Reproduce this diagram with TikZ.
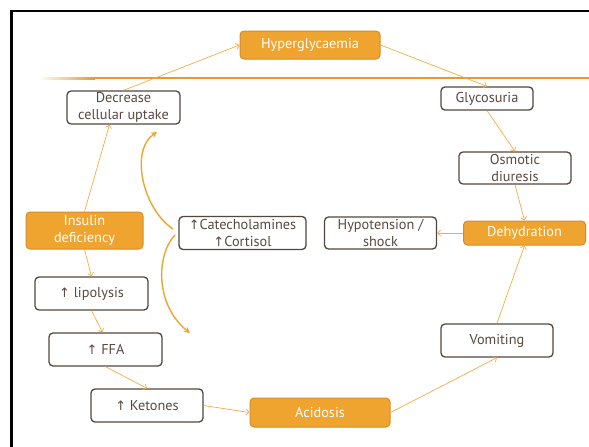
\documentclass[tikz,border=0pt]{standalone}
\usepackage{fontspec}
\setmainfont{PT Sans}
\newfontfamily\symf{DejaVu Sans}
\usetikzlibrary{arrows.meta,calc}
\definecolor{orfill}{RGB}{240,164,48}
\definecolor{orborder}{RGB}{212,140,42}
\definecolor{orline}{RGB}{234,152,40}
\definecolor{arcol}{RGB}{243,172,72}
\definecolor{bxborder}{RGB}{84,70,62}
\definecolor{txcol}{RGB}{88,74,66}
\newcommand\upa{{\symf\fontsize{13}{13}\selectfont ↑}}
\tikzset{
  basebox/.style={rounded corners=4pt, align=center, inner sep=0pt,
    font=\fontsize{14.3}{17}\selectfont},
  wbox/.style={basebox, draw=bxborder, line width=1.3pt, fill=white, text=txcol},
  obox/.style={basebox, draw=orborder, line width=1pt, fill=orfill, text=white},
  conn/.style={draw=arcol, line width=0.7pt, -{Straight Barb[length=3pt,width=6pt]}},
  curv/.style={draw=orfill, line width=1.4pt, -{Stealth[length=6pt,width=6pt]}},
}
\begin{document}
\begin{tikzpicture}[x=1pt,y=-1pt]
\useasboundingbox (0,0) rectangle (589,447);
% frame
\fill[black] (9.5,9.5) rectangle (589,12);
\fill[black] (9.5,9.5) rectangle (12.5,447);
% orange rule
\shade[left color=white, right color=orline] (38,77) rectangle (95,79);
\fill[orline] (95,77) rectangle (589,79);
% nodes
\node[obox, minimum width=140pt, minimum height=28pt] (hyper) at (310,45) {Hyperglycaemia};
\node[wbox, minimum width=113pt, minimum height=33pt] (decr) at (123.5,107.5) {Decrease\\cellular uptake};
\node[wbox, minimum width=92pt, minimum height=23pt] (glyc) at (487,98.5) {Glycosuria};
\node[wbox, minimum width=112pt, minimum height=32pt] (osm) at (515,168) {Osmotic\\diuresis};
\node[obox, minimum width=122pt, minimum height=24pt] (dehyd) at (524.5,233) {Dehydration};
\node[wbox, minimum width=112pt, minimum height=32pt] (hypo) at (380.5,233) {Hypotension /\\shock};
\node[wbox, minimum width=127pt, minimum height=33pt] (cate) at (242.5,233) {\upa Catecholamines\\\upa Cortisol};
\node[obox, minimum width=117pt, minimum height=37pt] (insul) at (84.5,230.5) {Insulin\\deficiency};
\node[wbox, minimum width=113pt, minimum height=33pt] (lipo) at (91.5,293.5) {\upa\ lipolysis};
\node[wbox, minimum width=113pt, minimum height=33pt] (ffa) at (105.5,349.5) {\upa\ FFA};
\node[wbox, minimum width=112pt, minimum height=33pt] (keto) at (147,405.5) {\upa\ Ketones};
\node[obox, minimum width=140pt, minimum height=29pt] (acid) at (320,412.5) {Acidosis};
\node[wbox, minimum width=112pt, minimum height=33pt] (vomit) at (497,340.5) {Vomiting};
% straight connectors
\draw[conn] (decr.north) -- (hyper.west);
\draw[conn] (hyper.east) -- (glyc.north);
\draw[conn] (glyc.south) -- (osm.north);
\draw[conn] (osm.south) -- (dehyd.north);
\draw[conn] (dehyd.west) -- (hypo.east);
\draw[conn] (vomit.north) -- (dehyd.south);
\draw[conn] (acid.east) -- (vomit.south);
\draw[conn] (keto.east) -- (acid.west);
\draw[conn] (ffa.south) -- (keto.north);
\draw[conn] (lipo.south) -- ([xshift=-3pt]ffa.north);
\draw[conn] (insul.south) -- (lipo.north);
\draw[conn] (insul.north) -- ([xshift=-14pt]decr.south);
% curved arrows from catecholamines
\coordinate (cu0) at (173,229);
\coordinate (cu1) at (157,132);
\coordinate (cd0) at (175,235);
\coordinate (cd1) at (190,333);
\draw[curv] (cu0) .. controls (142,208) and (130,150) .. (cu1);
\draw[curv] (cd0) .. controls (156,255) and (155,305) .. (cd1);
\end{tikzpicture}
\end{document}
